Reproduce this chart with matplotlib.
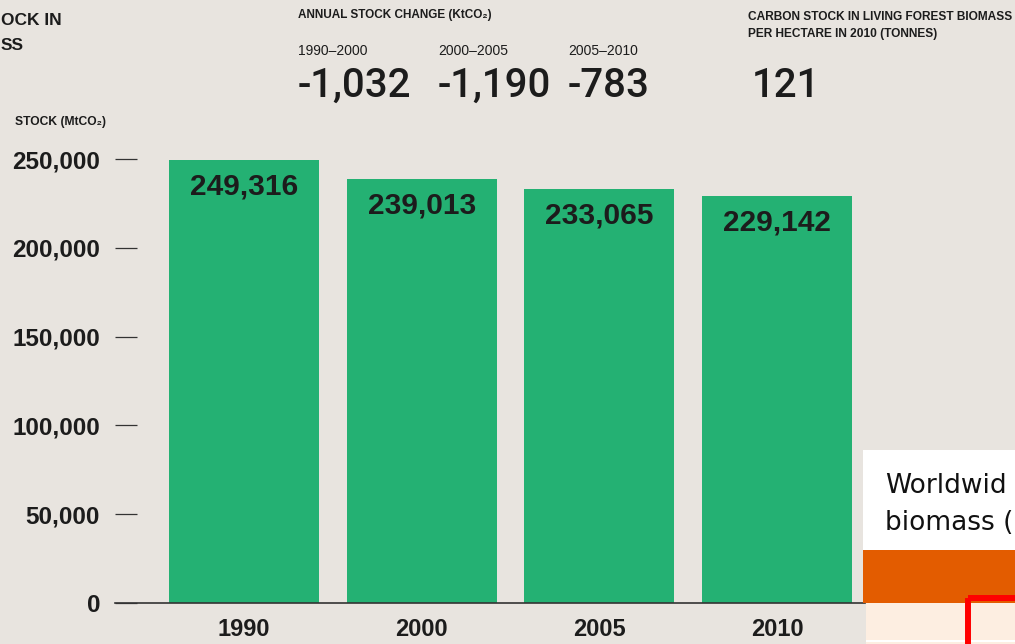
"""
plot.py
-------
Carbon stock in living forest biomass, 1990-2010 (bar chart with header figures).
"""

import matplotlib.pyplot as plt
from matplotlib.patches import Rectangle

# ---------------------------------------------------------------------------
# Data
# ---------------------------------------------------------------------------
years = ["1990", "2000", "2005", "2010"]
stock = [249316, 239013, 233065, 229142]

y_ticks = [0, 50000, 100000, 150000, 200000, 250000]

change_periods = ["1990\u20132000", "2000\u20132005", "2005\u20132010"]
change_values = ["-1,032", "-1,190", "-783"]
per_hectare = "121"

# ---------------------------------------------------------------------------
# Style
# ---------------------------------------------------------------------------
W, H = 1015, 644
BG = "#e8e4df"
GREEN = "#24b173"
INK = "#1c1c1c"
FONT = ["Liberation Sans", "DejaVu Sans"]
BIG = ["Roboto", "Liberation Sans", "DejaVu Sans"]


def px(x, y):
    """Pixel position (from top-left) -> figure fraction."""
    return x / W, 1 - y / H


def main() -> None:
    fig = plt.figure(figsize=(W / 100, H / 100), dpi=100, facecolor=BG)

    # main axes: zero line at y=603 px, 88.8 px per 50,000
    ymax = 260000
    top_px = 603 - ymax * 88.8 / 50000
    ax = fig.add_axes([115 / W, (H - 603) / H, 750 / W, (603 - top_px) / H])
    ax.set_facecolor(BG)

    xs = list(range(len(years)))
    ax.bar(xs, stock, width=0.844, color=GREEN, zorder=2)
    ax.set_xlim(-0.726, 3.495)
    ax.set_ylim(0, ymax)

    for x, v in zip(xs, stock):
        ax.annotate(f"{v:,}", (x, v), xytext=(0, -25), textcoords="offset points",
                    ha="center", va="baseline", fontsize=21.5, fontweight="bold",
                    family=FONT, color=INK, zorder=3)

    for side in ["left", "top", "right"]:
        ax.spines[side].set_visible(False)
    ax.spines["bottom"].set_color("#333333")
    ax.spines["bottom"].set_linewidth(1.2)
    ax.spines["bottom"].set_zorder(4)

    ax.set_yticks(y_ticks)
    ax.set_yticklabels([f"{t:,}" for t in y_ticks], fontsize=17.5, fontweight="bold",
                       family=FONT, color=INK)
    ax.tick_params(axis="y", direction="in", length=16, width=0.9, color="#333333", pad=10.8)

    ax.set_xticks(xs)
    ax.set_xticklabels(years, fontsize=17, fontweight="bold", family=FONT, color=INK)
    ax.tick_params(axis="x", length=0, pad=10.5)

    # header texts
    def txt(x, y, s, size, weight="normal", ha="left", family=FONT):
        fig.text(*px(x, y), s, fontsize=size, fontweight=weight, family=family,
                 color=INK, ha=ha, va="baseline")

    # title is cropped at the left edge in the source; only its tail is visible
    txt(1, 25, "OCK IN", 12.5, "bold")
    txt(1, 50, "SS", 12.5, "bold")
    txt(15, 125, "STOCK (MtCO\u2082)", 8.7, "bold")

    txt(298, 18, "ANNUAL STOCK CHANGE (KtCO\u2082)", 8.5, "bold")
    for x, period, val in zip([298, 438, 568], change_periods, change_values):
        txt(x, 55, period, 10)
        txt(x, 97, val, 29, "medium", family=BIG)

    txt(748, 20, "CARBON STOCK IN LIVING FOREST BIOMASS", 8.6, "bold")
    txt(748, 37, "PER HECTARE IN 2010 (TONNES)", 8.6, "bold")
    txt(752, 97, per_hectare, 29, "medium", family=BIG)

    # pasted slide fragment, bottom right
    ov = fig.add_axes([0, 0, 1, 1], zorder=10)
    ov.set_xlim(0, W)
    ov.set_ylim(H, 0)
    ov.axis("off")
    ov.patch.set_visible(False)
    ov.add_patch(Rectangle((863, 450), 160, 100, facecolor="white", edgecolor="none"))
    ov.add_patch(Rectangle((863, 550), 160, 53, facecolor="#e35c00", edgecolor="none"))
    ov.add_patch(Rectangle((866, 603), 160, 37, facecolor="#fdeee1", edgecolor="none"))
    ov.add_patch(Rectangle((866, 640), 160, 2, facecolor="white", edgecolor="none"))
    ov.add_patch(Rectangle((866, 642), 160, 10, facecolor="#fdeee1", edgecolor="none"))
    ov.add_patch(Rectangle((968, 598), 200, 100, facecolor="none", edgecolor="#ff0000",
                           linewidth=4.3))
    ov.text(885, 493, "Worldwid", fontsize=19, family="DejaVu Sans",
            color="#111111", va="baseline")
    ov.text(885, 530, "biomass (", fontsize=19, family="DejaVu Sans",
            color="#111111", va="baseline")

    fig.savefig("out.png", dpi=100, facecolor=BG)
    plt.close(fig)


if __name__ == "__main__":
    main()
